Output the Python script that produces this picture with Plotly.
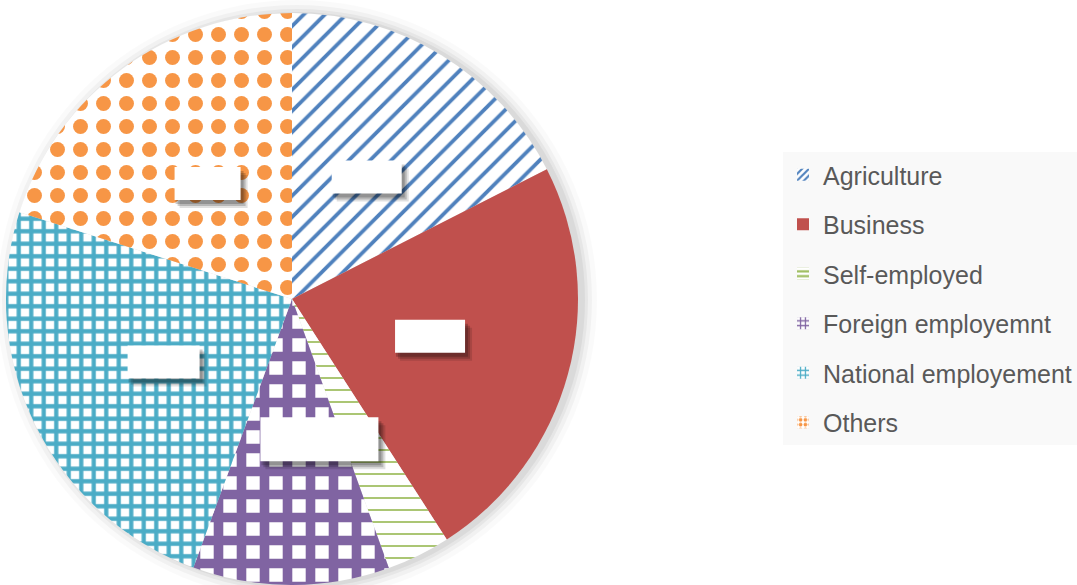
import math
import plotly.graph_objects as go

# ---- data ----
categories = ["Agriculture", "Business", "Self-employed", "Foreign employemnt",
              "National employement", "Others"]
shares = [17.5, 23.4, 3.6, 11.1, 24.3, 20.1]

# ---- styles ----
colors = ["#4F81BD", "#C0504D", "#9BBB59", "#8064A2", "#4BACC6", "#F79646"]
shapes_pat = ["/", "", "-", "+", "+", "."]
pat_size = [15, 8, 12, 23, 12.5, 23]
pat_sol = [0.25, 0.3, 0.14, 0.66, 0.56, 0.33]

W, H = 1077, 585
CX, CY, R = 292, 299, 286  # pie centre / radius in pixels

fig = go.Figure()

fig.add_trace(go.Pie(
    labels=categories, values=shares, sort=False, direction="clockwise",
    rotation=0, textinfo="none", hoverinfo="label+percent", showlegend=False,
    domain=dict(x=[(CX - R) / W, (CX + R) / W], y=[1 - (CY + R) / H, 1 - (CY - R) / H]),
    marker=dict(
        colors=colors,
        line=dict(width=0),
        pattern=dict(shape=shapes_pat, fgcolor=colors, bgcolor="white",
                     fillmode="replace", size=pat_size, solidity=pat_sol),
    ),
))

# legend entries (one group each so the items can be spaced like the original)
for i, name in enumerate(categories):
    fig.add_trace(go.Bar(
        x=[None], y=[None], name=name, legendgroup=f"g{i}",
        marker=dict(color=colors[i], line=dict(width=0),
                    pattern=dict(shape=shapes_pat[i], fgcolor=colors[i], bgcolor="white",
                                 fillmode="replace", size=6, solidity=0.45)),
    ))

def px2paper(x, y):
    return x / W, 1 - y / H

shapes = []
# soft shadow around the pie (stronger on the right)
for dr, col in [(14, "rgba(0,0,0,0.02)"), (9, "rgba(0,0,0,0.035)"), (5, "rgba(0,0,0,0.045)"), (2, "rgba(0,0,0,0.05)")]:
    x0, y1 = px2paper(CX - R - dr + 5, CY - R - dr + 1)
    x1, y0 = px2paper(CX + R + dr + 5, CY + R + dr + 1)
    shapes.append(dict(type="circle", xref="paper", yref="paper", x0=x0, x1=x1, y0=y0, y1=y1,
                       fillcolor=col, line=dict(width=0), layer="below"))

# white (redacted) label boxes at slice mid angles
total = sum(shares)
cum = 0
mids = []
for v in shares:
    mids.append((cum + v / 2) / total * 360)
    cum += v
boxes = [(mids[0], 70, 33), (mids[1], 70, 33), ((mids[2] + mids[3]) / 2 + 2, 118, 44),
         (mids[4], 72, 33), (mids[5], 66, 33)]
for ang, bw, bh in boxes:
    a = math.radians(ang)
    r = 0.5 * R
    bx = CX + r * math.sin(a)
    by = CY - r * math.cos(a)
    for off, col in [((7, 8), "rgba(0,0,0,0.12)"), ((5, 6), "rgba(0,0,0,0.18)"), ((3, 4), "rgba(0,0,0,0.2)")]:
        x0, y1 = px2paper(bx - bw / 2 + off[0] - 2, by - bh / 2 + off[1])
        x1, y0 = px2paper(bx + bw / 2 + off[0], by + bh / 2 + off[1])
        shapes.append(dict(type="rect", xref="paper", yref="paper", x0=x0, x1=x1, y0=y0, y1=y1,
                           fillcolor=col, line=dict(width=0), layer="above"))
    x0, y1 = px2paper(bx - bw / 2, by - bh / 2)
    x1, y0 = px2paper(bx + bw / 2, by + bh / 2)
    shapes.append(dict(type="rect", xref="paper", yref="paper", x0=x0, x1=x1, y0=y0, y1=y1,
                       fillcolor="white", line=dict(width=0), layer="above"))

fig.update_layout(
    width=W, height=H,
    margin=dict(l=0, r=0, t=0, b=0),
    paper_bgcolor="white", plot_bgcolor="white",
    xaxis=dict(visible=False), yaxis=dict(visible=False),
    shapes=shapes,
    legend=dict(
        x=1, xanchor="right", y=1 - 152 / H, yanchor="top",
        bgcolor="#f9f9f9", borderwidth=0, tracegroupgap=14,
        font=dict(family="Liberation Sans, Arial, sans-serif", size=25, color="#595959"),
        itemwidth=30,
    ),
    showlegend=True,
)

fig.write_html("out.html")
